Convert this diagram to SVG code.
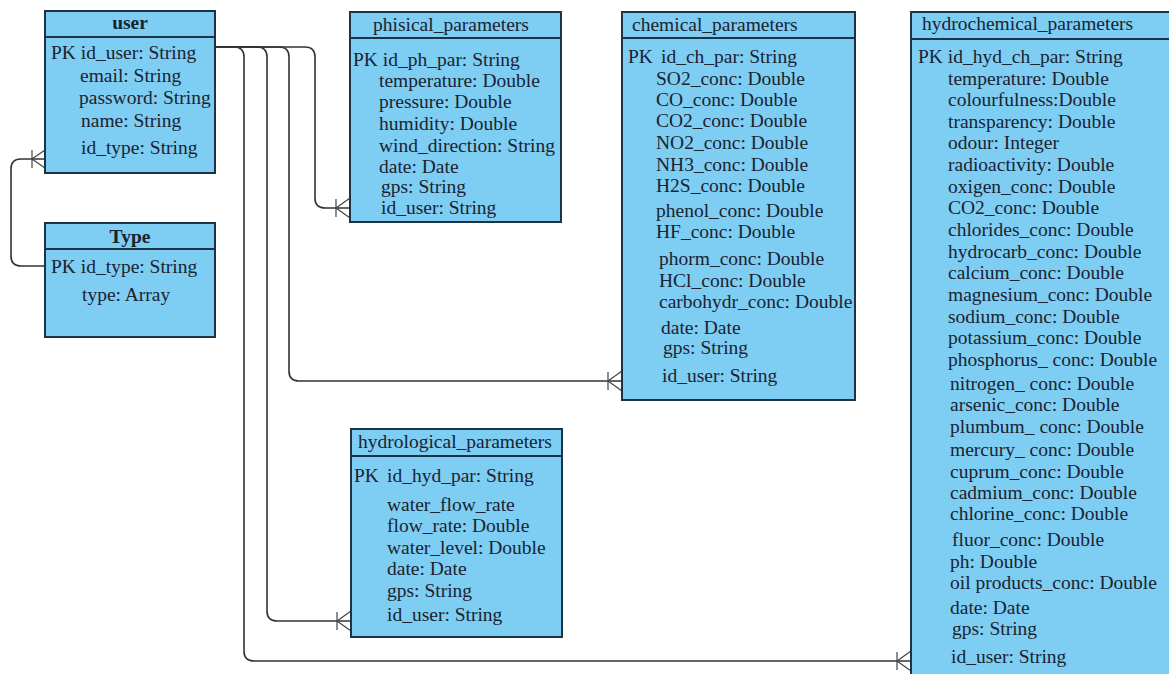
<svg xmlns="http://www.w3.org/2000/svg" width="1169" height="674" viewBox="0 0 1169 674" font-family="Liberation Serif, Times New Roman, serif">
<style>
.box{fill:#7ecdf3;stroke:#1e3346;stroke-width:2}
.div{stroke:#1e3346;stroke-width:2}
text{font-size:19.5px;fill:#1b2330}
.b{font-weight:bold;text-anchor:middle}
.c{fill:none;stroke:#333;stroke-width:1.6}
.cf{fill:none;stroke:#444;stroke-width:1.2}
</style>
<rect width="1169" height="674" fill="#fff"/>
<g id="connectors">
<path class="c" d="M215,47 H305 Q315,47 315,57 V198 Q315,208 325,208 H350"/>
<path class="cf" d="M336,199 V217 M336,208 L350,198 M336,208 L350,218"/>
<path class="c" d="M215,47 H279 Q289,47 289,57 V371 Q289,381 299,381 H622"/>
<path class="cf" d="M608,372 V390 M608,381 L622,371 M608,381 L622,391"/>
<path class="c" d="M215,47 H257 Q267,47 267,57 V611 Q267,621 277,621 H351"/>
<path class="cf" d="M337,612 V630 M337,621 L351,611 M337,621 L351,631"/>
<path class="c" d="M215,47 H234 Q244,47 244,57 V651 Q244,661 254,661 H911"/>
<path class="cf" d="M897,652 V670 M897,661 L911,651 M897,661 L911,671"/>
<path class="c" d="M45,266 H21 Q11,266 11,256 V169 Q11,159 21,159 H45"/>
<path class="cf" d="M32,150 V168 M32,159 L45,150 M32,159 L45,168"/>
</g>
<g id="user" font-family="Liberation Serif, serif">
<rect class="box" x="45" y="11" width="170" height="162"/>
<line class="div" x1="45" y1="37" x2="215" y2="37"/>
<text class="b" x="130" y="29">user</text>
<text x="51" y="59">PK id_user: String</text>
<text x="80" y="82">email: String</text>
<text x="79" y="104">password: String</text>
<text x="81" y="127">name: String</text>
<text x="81" y="154">id_type: String</text>
</g>
<g id="type" font-family="Liberation Serif, serif">
<rect class="box" x="45" y="223" width="170" height="114"/>
<line class="div" x1="45" y1="249" x2="215" y2="249"/>
<text class="b" x="130" y="243">Type</text>
<text x="51" y="273">PK id_type: String</text>
<text x="82" y="301">type: Array</text>
</g>
<g id="phisical_parameters" font-family="Liberation Serif, serif">
<rect class="box" x="350" y="12" width="211" height="210"/>
<line class="div" x1="350" y1="38" x2="561" y2="38"/>
<text x="373" y="31">phisical_parameters</text>
<text x="353" y="66">PK id_ph_par: String</text>
<text x="379" y="87">temperature: Double</text>
<text x="379" y="108">pressure: Double</text>
<text x="379" y="130">humidity: Double</text>
<text x="379" y="152">wind_direction: String</text>
<text x="379" y="173">date: Date</text>
<text x="381" y="193">gps: String</text>
<text x="381" y="214">id_user: String</text>
</g>
<g id="chemical_parameters" font-family="Liberation Serif, serif">
<rect class="box" x="622" y="12" width="233" height="388"/>
<line class="div" x1="622" y1="38" x2="855" y2="38"/>
<text x="632" y="31">chemical_parameters</text>
<text x="628" y="63">PK</text>
<text x="661" y="63">id_ch_par: String</text>
<text x="656" y="85">SO2_conc: Double</text>
<text x="656" y="106">CO_conc: Double</text>
<text x="656" y="127">CO2_conc: Double</text>
<text x="656" y="149">NO2_conc: Double</text>
<text x="656" y="171">NH3_conc: Double</text>
<text x="656" y="192">H2S_conc: Double</text>
<text x="656" y="217">phenol_conc: Double</text>
<text x="656" y="238">HF_conc: Double</text>
<text x="659" y="265">phorm_conc: Double</text>
<text x="659" y="287">HCl_conc: Double</text>
<text x="659" y="308">carbohydr_conc: Double</text>
<text x="661" y="334">date: Date</text>
<text x="663" y="354">gps: String</text>
<text x="662" y="382">id_user: String</text>
</g>
<g id="hydrochemical_parameters" font-family="Liberation Serif, serif">
<rect class="box" x="911" y="12" width="270" height="680"/>
<line class="div" x1="911" y1="39" x2="1169" y2="39"/>
<text x="922" y="30">hydrochemical_parameters</text>
<text x="918" y="63">PK id_hyd_ch_par: String</text>
<text x="948" y="85">temperature: Double</text>
<text x="948" y="106">colourfulness:Double</text>
<text x="948" y="128">transparency: Double</text>
<text x="948" y="149">odour: Integer</text>
<text x="948" y="171">radioactivity: Double</text>
<text x="948" y="193">oxigen_conc: Double</text>
<text x="948" y="214">CO2_conc: Double</text>
<text x="948" y="236">chlorides_conc: Double</text>
<text x="948" y="258">hydrocarb_conc: Double</text>
<text x="948" y="279">calcium_conc: Double</text>
<text x="948" y="301">magnesium_conc: Double</text>
<text x="948" y="323">sodium_conc: Double</text>
<text x="948" y="344">potassium_conc: Double</text>
<text x="948" y="366">phosphorus_ conc: Double</text>
<text x="950" y="390">nitrogen_ conc: Double</text>
<text x="950" y="411">arsenic_conc: Double</text>
<text x="950" y="433">plumbum_ conc: Double</text>
<text x="950" y="456">mercury_ conc: Double</text>
<text x="950" y="478">cuprum_conc: Double</text>
<text x="950" y="499">cadmium_conc: Double</text>
<text x="950" y="520">chlorine_conc: Double</text>
<text x="952" y="546">fluor_conc: Double</text>
<text x="950" y="568">ph: Double</text>
<text x="950" y="589">oil products_conc: Double</text>
<text x="950" y="614">date: Date</text>
<text x="952" y="635">gps: String</text>
<text x="951" y="663">id_user: String</text>
</g>
<g id="hydrological_parameters" font-family="Liberation Serif, serif">
<rect class="box" x="351" y="429" width="211" height="208"/>
<line class="div" x1="351" y1="456" x2="562" y2="456"/>
<text x="358" y="448">hydrological_parameters</text>
<text x="354" y="482">PK</text>
<text x="387" y="482">id_hyd_par: String</text>
<text x="387" y="511">water_flow_rate</text>
<text x="387" y="532">flow_rate: Double</text>
<text x="387" y="554">water_level: Double</text>
<text x="387" y="575">date: Date</text>
<text x="387" y="597">gps: String</text>
<text x="387" y="621">id_user: String</text>
</g>
</svg>
